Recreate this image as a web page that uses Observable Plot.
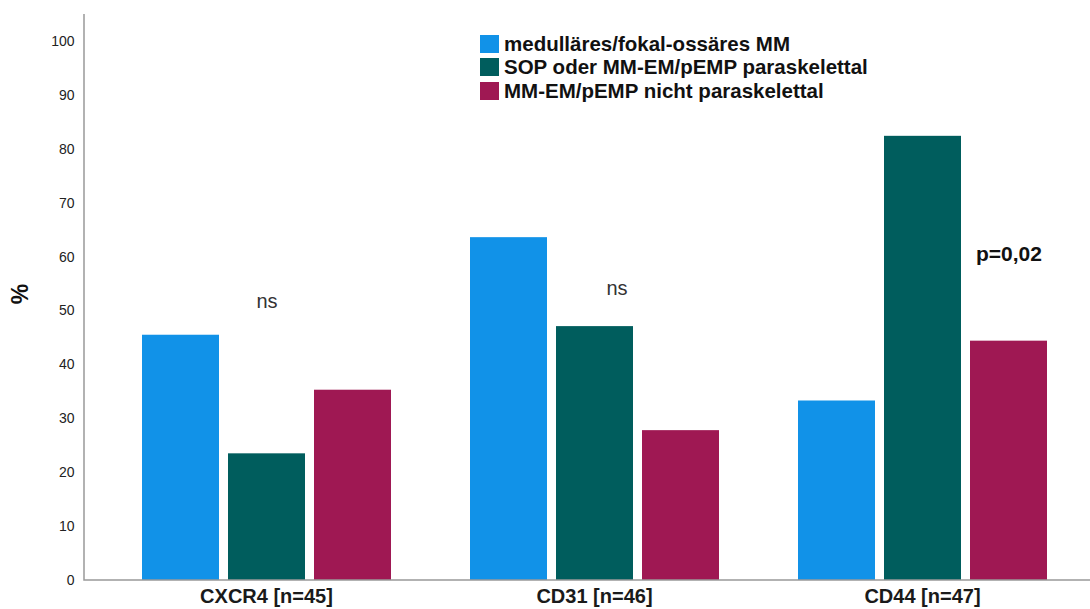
<!DOCTYPE html>
<html>
<head>
<meta charset="utf-8">
<script src="https://cdn.jsdelivr.net/npm/d3@7"></script>
<script src="https://cdn.jsdelivr.net/npm/@observablehq/plot@0.6"></script>
<style>
  html, body { margin: 0; padding: 0; background: #fff; }
  #chart { position: relative; width: 1090px; height: 609px; font-family: "Liberation Sans", Arial, sans-serif; }
  #chart svg { display: block; }
  .legend { position: absolute; left: 480px; top: 32px; color: #111; font-weight: bold; font-size: 20.5px; }
  .legend .row { display: flex; align-items: center; height: 23.5px; white-space: nowrap; }
  .legend .sw { width: 19px; height: 18px; margin-right: 5px; flex: none; }
  .ytitle { position: absolute; left: 20px; top: 294px; transform: translate(-50%, -50%) rotate(-90deg); font-weight: bold; font-size: 23px; color: #111; line-height: 1; }
</style>
</head>
<body>
<div id="chart"></div>
<script>
// Marker groups (with group size) along the bottom axis
const categories = ["CXCR4 [n=45]", "CD31 [n=46]", "CD44 [n=47]"];
// Disease pattern series
const series = [
  "medulläres/fokal-ossäres MM",
  "SOP oder MM-EM/pEMP paraskelettal",
  "MM-EM/pEMP nicht paraskelettal"
];
const seriesColors = ["#1192e8", "#005d5d", "#9f1853"];
// Percent positive per group, one array per series (order follows categories)
const medullaer = [45.5, 63.6, 33.3];
const paraskelettal = [23.5, 47.1, 82.4];
const nichtParaskelettal = [35.3, 27.8, 44.4];
// Y axis ticks
const yTicks = [0, 10, 20, 30, 40, 50, 60, 70, 80, 90, 100];
// Significance notes: group, bar it sits over, height in %
const noteCategories = ["CXCR4 [n=45]", "CD31 [n=46]", "CD44 [n=47]"];
const noteSeries = [series[1], series[1], series[2]];
const noteValues = [51.7, 54.1, 60.6];
const noteLabels = ["ns", "ns", "p=0,02"];

const valuesBySeries = [medullaer, paraskelettal, nichtParaskelettal];
const rows = [];
series.forEach((s, si) => categories.forEach((c, ci) => rows.push({category: c, series: s, value: valuesBySeries[si][ci]})));
const notes = noteCategories.map((c, i) => ({category: c, series: noteSeries[i], y: noteValues[i], label: noteLabels[i]}));

const W = 1090, H = 609;
const marginLeft = 84, marginTop = 14, marginBottom = 29, marginRight = 2;
const groupStart = 140, groupEnd = 1047;
const font = "Liberation Sans, Arial, sans-serif";

const plot = Plot.plot({
  width: W,
  height: H,
  marginLeft, marginTop, marginBottom, marginRight,
  style: {fontFamily: font, color: "#222", background: "transparent", overflow: "visible"},
  fx: {domain: categories, range: [groupStart, groupEnd], paddingInner: 0.239, paddingOuter: 0, label: null},
  x: {domain: series, paddingInner: 0.11, paddingOuter: 0, axis: null},
  y: {domain: [0, 105], axis: null},
  color: {domain: series, range: seriesColors},
  marks: [
    Plot.barY(rows, {fx: "category", x: "series", y: "value", fill: "series"}),
    Plot.axisY({ticks: yTicks, tickSize: 0, tickPadding: 11, fontSize: 14, fill: "#222", label: null, dx: marginLeft - groupStart}),
    Plot.axisFx({anchor: "bottom", tickSize: 0, tickPadding: 8, fontSize: 20, fontWeight: "bold", fill: "#1a1a1a", label: null}),
    Plot.text(notes.filter(d => d.label === "ns" && d.category !== categories[1]), {fx: "category", x: "series", y: "y", text: "label", fontSize: 20, fill: "#333"}),
    Plot.text(notes.filter(d => d.label === "ns" && d.category === categories[1]), {fx: "category", x: "series", y: "y", text: "label", fontSize: 20, fill: "#333", dx: 22}),
    Plot.text(notes.filter(d => d.label !== "ns"), {fx: "category", x: "series", y: "y", text: "label", fontSize: 21, fontWeight: "bold", fill: "#111"})
  ]
});

// Axis lines (left and bottom) drawn from the y scale
const yScale = plot.scale("y");
const y0 = yScale.apply(0);
const yTop = yScale.apply(yScale.domain[1]);
d3.select(plot).append("path")
  .attr("fill", "none")
  .attr("stroke", "#999")
  .attr("stroke-width", 1.5)
  .attr("d", `M${marginLeft},${yTop}V${y0}H${W}`);

const chart = document.getElementById("chart");
chart.appendChild(plot);

const legend = document.createElement("div");
legend.className = "legend";
series.forEach((s, i) => {
  const row = document.createElement("div");
  row.className = "row";
  const sw = document.createElement("span");
  sw.className = "sw";
  sw.style.background = seriesColors[i];
  const t = document.createElement("span");
  t.textContent = s;
  row.appendChild(sw);
  row.appendChild(t);
  legend.appendChild(row);
});
chart.appendChild(legend);

const ytitle = document.createElement("div");
ytitle.className = "ytitle";
ytitle.textContent = "%";
chart.appendChild(ytitle);
</script>
</body>
</html>
